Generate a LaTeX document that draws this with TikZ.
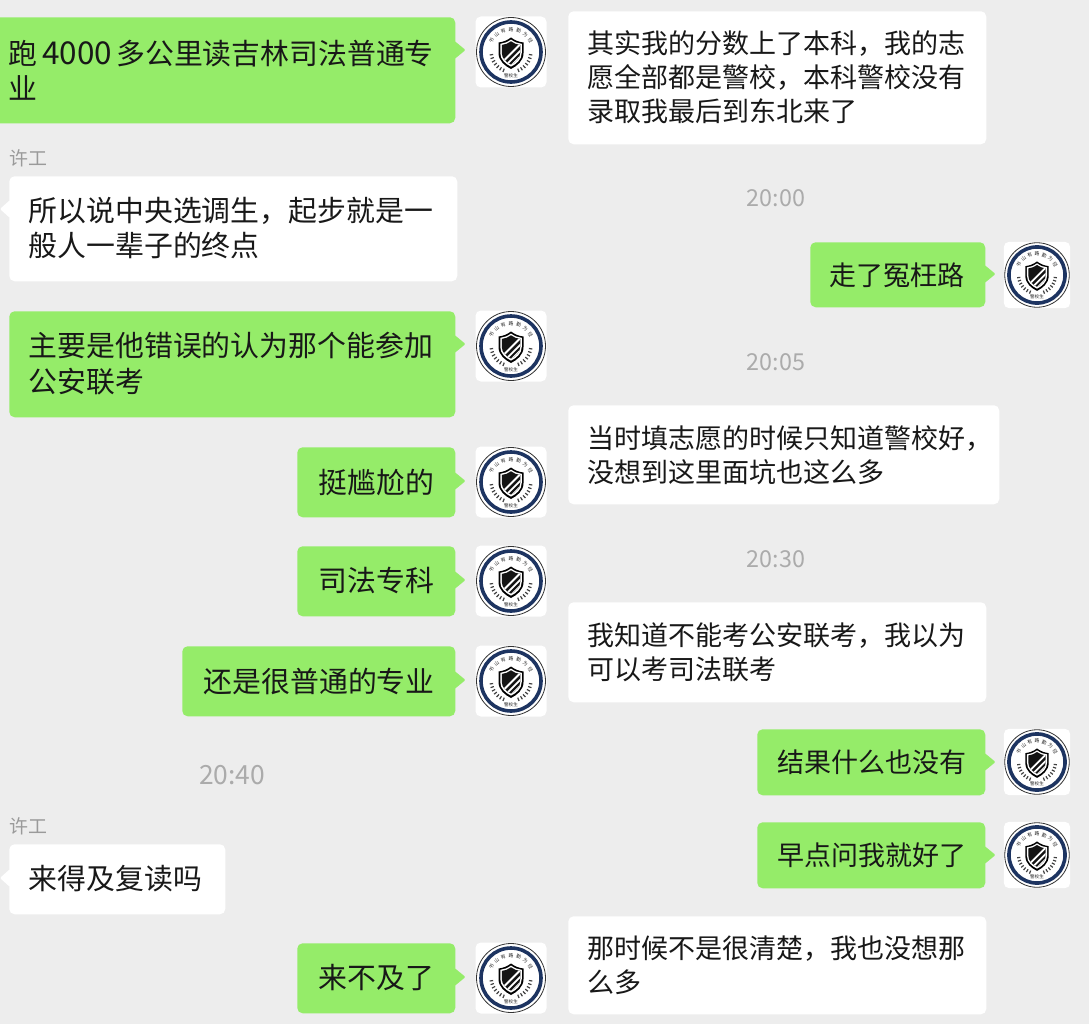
\documentclass[tikz,border=0pt]{standalone}
\usepackage{fontspec}
\setmainfont{Noto Sans CJK SC}
\usetikzlibrary{calc}
\definecolor{chatbg}{HTML}{EDEDED}
\definecolor{wxgreen}{HTML}{95EC69}
\definecolor{msgink}{HTML}{181818}
\definecolor{stamp}{HTML}{ABABAB}
\definecolor{sender}{HTML}{9A9A9A}
\definecolor{navy}{HTML}{1D3461}
\tikzset{
  x=0.75pt,y=-0.75pt,
  bubblebase/.style={inner sep=0pt,rounded corners=4pt,anchor=north west},
  greenbub/.style={bubblebase,fill=wxgreen},
  whitebub/.style={bubblebase,fill=white},
  msgl/.style={anchor=west,inner sep=0pt,align=left,text=msgink,font=\fontsize{21.65}{26.6}\selectfont},
  msgr/.style={anchor=west,inner sep=0pt,align=left,text=msgink,font=\fontsize{20.25}{25.4}\selectfont},
  timelabel/.style={inner sep=0pt,text=stamp,font=\fontsize{17.5}{20}\selectfont},
  timelabelbig/.style={inner sep=0pt,text=stamp,font=\fontsize{19.8}{22}\selectfont},
  whoname/.style={anchor=west,inner sep=0pt,text=sender,font=\fontsize{14.2}{16}\selectfont},
  avtext/.style={inner sep=0pt,text=black!85,font=\fontsize{3.6}{4}\selectfont},
  avsmall/.style={inner sep=0pt,text=black!85,font=\fontsize{3.4}{4}\selectfont},
}
\newcommand{\shieldpath}{(0,-14.5) .. controls (4,-11.5) and (8,-10) .. (12.5,-9.5) -- (12.5,1) .. controls (12.5,9) and (6,14) .. (0,17) .. controls (-6,14) and (-12.5,9) .. (-12.5,1) -- (-12.5,-9.5) .. controls (-8,-10) and (-4,-11.5) .. (0,-14.5) -- cycle}
% name, style, x1, y1, x2, y2
\newcommand{\chatbox}[6]{%
  \pgfmathsetlengthmacro{\bw}{(#5-(#3))*0.75pt}%
  \pgfmathsetlengthmacro{\bh}{(#6-(#4))*0.75pt}%
  \node[#2,minimum width=\bw,minimum height=\bh] (#1) at (#3,#4) {};}
\newcommand{\tailright}[2]{\fill[wxgreen,rounded corners=0.8pt] ($(#1.north east)+(-1,#2-9)$) -- ($(#1.north east)+(10,#2)$) -- ($(#1.north east)+(-1,#2+9)$) -- cycle;}
\newcommand{\tailleft}[2]{\fill[white,rounded corners=0.8pt] ($(#1.north west)+(1,#2-9)$) -- ($(#1.north west)+(-9,#2)$) -- ($(#1.north west)+(1,#2+9)$) -- cycle;}
% name, centre x, centre y, scale
\newcommand{\avatar}[4]{%
\begin{scope}[shift={(#2,#3)},scale=#4]
  \fill[white,rounded corners=4pt] (-35.5,-35.5) rectangle (35.5,35.5);
  \draw[black!80,line width=0.6pt] (0,0) circle (34.5);
  \draw[navy,line width=2.7pt] (0,0) circle (30);
  \fill[black] \shieldpath;
  \begin{scope}[scale=0.86]\fill[white] \shieldpath;\end{scope}
  \begin{scope}[scale=0.74]
    \fill[black!92] \shieldpath;
    \clip \shieldpath;
    \draw[white,line width=1.4pt] (-6,17) -- (15,-4) (1,18) -- (17,2) (-11,13) -- (12,-10);
  \end{scope}
  % laurels: the y axis points down, so these angles lie in the lower half
  \foreach \a in {112,122,...,172}{%
    \draw[black!75,line width=0.9pt] (\a:18) -- (\a:21.5);
    \draw[black!75,line width=0.9pt] (180-\a:18) -- (180-\a:21.5);}
  \foreach \c [count=\i] in {书,山,有,路,勤,为,径}{%
    \pgfmathsetmacro{\ang}{150-(\i-1)*20}%
    \pgfmathsetmacro{\rot}{\ang-90}%
    \node[avtext,rotate=\rot] (#1t\i) at ({22.5*cos(\ang)},{-22.5*sin(\ang)}) {\c};}
  \node[avsmall] (#1motto) at (0,23.5) {警校生};
\end{scope}}
\begin{document}
\begin{tikzpicture}
\useasboundingbox (0,0) rectangle (1089,1024);
\fill[chatbg] (0,0) rectangle (1089,1024);

% left column
\chatbox{b1}{greenbub}{-8}{17}{455}{123}
\tailright{b1}{33}
\node[msgl] (t1) at (8.5,70.5) {跑\hspace{3.4pt}{\fontsize{23.6}{26.6}\selectfont 4000}\hspace{3.2pt}多公里读吉林司法普通专\\业};
\avatar{a1}{511}{52}{1}

\node[whoname] (n1) at (9.5,158) {许工};
\chatbox{b2}{whitebub}{9}{176}{457}{281}
\tailleft{b2}{33}
\node[msgl] (t2) at (28.5,228) {所以说中央选调生，起步就是一\\般人一辈子的终点};

\chatbox{b3}{greenbub}{9}{311}{455}{417}
\tailright{b3}{33}
\node[msgl] (t3) at (28.5,363.5) {主要是他错误的认为那个能参加\\公安联考};
\avatar{a3}{511}{346}{1}

\chatbox{b4}{greenbub}{297}{447}{455}{517}
\tailright{b4}{34}
\node[msgl] (t4) at (318.5,482) {挺尴尬的};
\avatar{a4}{511}{482}{1}

\chatbox{b5}{greenbub}{297}{546}{455}{616}
\tailright{b5}{34}
\node[msgl] (t5) at (318.5,581) {司法专科};
\avatar{a5}{511}{581}{1}

\chatbox{b6}{greenbub}{182}{646}{455}{716}
\tailright{b6}{34}
\node[msgl] (t6) at (203.5,681) {还是很普通的专业};
\avatar{a6}{511}{681}{1}

\node[timelabelbig] (time4) at (232,775) {20:40};
\node[whoname] (n2) at (9.5,826) {许工};
\chatbox{b7}{whitebub}{9}{844}{225}{914}
\tailleft{b7}{34}
\node[msgl] (t7) at (28.5,879) {来得及复读吗};

\chatbox{b8}{greenbub}{297}{943}{455}{1013}
\tailright{b8}{34}
\node[msgl] (t8) at (318.5,978) {来不及了};
\avatar{a8}{511}{978}{1}

% right column
\chatbox{r1}{whitebub}{568}{11}{986}{144}
\node[msgr] (u1) at (587.5,77) {其实我的分数上了本科，我的志\\愿全部都是警校，本科警校没有\\录取我最后到东北来了};

\node[timelabel] (time1) at (776,198) {20:00};
\chatbox{r2}{greenbub}{810}{242}{985}{307}
\tailright{r2}{32}
\node[msgr] (u2) at (829.5,275) {走了冤枉路};
\avatar{a9}{1037}{275}{0.935}

\node[timelabel] (time2) at (776,362) {20:05};
\chatbox{r3}{whitebub}{568}{405}{999}{504}
\node[msgr] (u3) at (587.5,455.5) {当时填志愿的时候只知道警校好，\\没想到这里面坑也这么多};

\node[timelabel] (time3) at (776,559) {20:30};
\chatbox{r4}{whitebub}{568}{602}{986}{702}
\node[msgr] (u4) at (587.5,652) {我知道不能考公安联考，我以为\\可以考司法联考};

\chatbox{r5}{greenbub}{757}{729}{985}{795}
\tailright{r5}{33}
\node[msgr] (u5) at (777.5,762) {结果什么也没有};
\avatar{a10}{1037}{762}{0.935}

\chatbox{r6}{greenbub}{757}{822}{985}{888}
\tailright{r6}{33}
\node[msgr] (u6) at (777.5,855) {早点问我就好了};
\avatar{a11}{1037}{855}{0.935}

\chatbox{r7}{whitebub}{568}{916}{986}{1014}
\node[msgr] (u7) at (587.5,965.5) {那时候不是很清楚，我也没想那\\么多};
\end{tikzpicture}
\end{document}
